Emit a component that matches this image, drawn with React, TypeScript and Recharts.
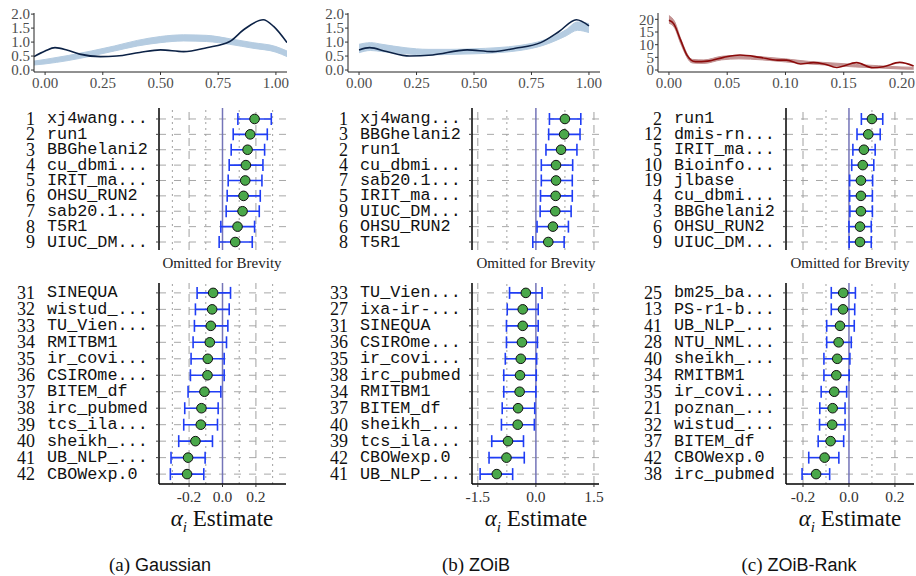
import React from 'react';
import { ComposedChart, ScatterChart, Scatter, XAxis, YAxis, ErrorBar, ReferenceLine, Line, Area } from 'recharts';

// ---------- density data ----------
const gaussObsX = [-0.048, 0.0, 0.043, 0.094, 0.15, 0.24, 0.31, 0.41, 0.5, 0.6, 0.7, 0.8, 0.86, 0.945, 0.99, 1.048];
const gaussObsY = [0.48, 0.68, 0.8, 0.72, 0.57, 0.48, 0.5, 0.63, 0.72, 0.66, 0.8, 1.02, 1.44, 1.8, 1.56, 0.98];
const gaussBandX = [-0.048, 0.0, 0.1, 0.2, 0.3, 0.4, 0.5, 0.6, 0.7, 0.8, 0.9, 1.0, 1.048];
const gaussBandLo = [0.18, 0.22, 0.34, 0.5, 0.68, 0.86, 0.98, 1.04, 1.02, 0.92, 0.78, 0.64, 0.48];
const gaussBandHi = [0.32, 0.38, 0.52, 0.68, 0.86, 1.06, 1.2, 1.26, 1.24, 1.12, 0.98, 0.84, 0.68];

const zoibObsX = [0.0, 0.046, 0.12, 0.22, 0.32, 0.47, 0.58, 0.68, 0.79, 0.87, 0.945, 1.0];
const zoibObsY = [0.72, 0.8, 0.66, 0.5, 0.54, 0.72, 0.66, 0.78, 0.98, 1.38, 1.8, 1.58];
const zoibBandX = [0.0, 0.05, 0.1, 0.2, 0.3, 0.4, 0.5, 0.6, 0.7, 0.8, 0.9, 0.95, 1.0];
const zoibBandLo = [0.62, 0.7, 0.66, 0.58, 0.54, 0.56, 0.58, 0.62, 0.7, 0.88, 1.22, 1.42, 1.34];
const zoibBandHi = [0.92, 0.98, 0.92, 0.8, 0.74, 0.74, 0.76, 0.8, 0.88, 1.06, 1.44, 1.72, 1.66];

const rankObsX = [0.0, 0.004, 0.01, 0.0154, 0.0226, 0.033, 0.047, 0.061, 0.078, 0.093, 0.101, 0.113, 0.124, 0.133, 0.144, 0.161, 0.175, 0.184, 0.198, 0.21];
const rankObsY = [19.6, 18.3, 11.8, 5.9, 3.3, 3.5, 5.0, 5.9, 5.0, 3.9, 3.9, 2.4, 2.9, 2.4, 1.0, 2.9, 0.9, 1.3, 3.0, 1.6];
const rankBandX = [0.0, 0.005, 0.01, 0.02, 0.03, 0.045, 0.06, 0.08, 0.1, 0.12, 0.14, 0.16, 0.18, 0.2, 0.21];
const rankBandLo = [18.5, 16.5, 10.5, 2.8, 2.6, 4.0, 4.4, 4.0, 3.2, 2.4, 1.8, 1.2, 0.8, 0.4, 0.3];
const rankBandHi = [21.5, 19.0, 12.5, 4.2, 4.0, 5.4, 5.8, 5.2, 4.4, 3.4, 2.8, 2.2, 1.7, 1.2, 1.1];

const unitTicks = [0, 0.25, 0.5, 0.75, 1];
const unitYTicks = [0, 0.5, 1, 1.5, 2];
const rankTicks = [0, 0.05, 0.1, 0.15, 0.2];
const rankYTicks = [0, 5, 10, 15, 20];

// ---------- forest data ----------
const gaussTopIds = [1, 2, 3, 4, 5, 6, 7, 8, 9];
const gaussTopNames = ['xj4wang...', 'run1', 'BBGhelani2', 'cu_dbmi...', 'IRIT_ma...', 'OHSU_RUN2', 'sab20.1...', 'T5R1', 'UIUC_DM...'];
const gaussTopEst = [0.192, 0.166, 0.15, 0.14, 0.136, 0.126, 0.12, 0.09, 0.076];
const gaussTopLo = [0.092, 0.064, 0.052, 0.04, 0.034, 0.028, 0.022, -0.01, -0.02];
const gaussTopHi = [0.292, 0.268, 0.252, 0.242, 0.236, 0.226, 0.22, 0.192, 0.178];

const gaussBotIds = [31, 32, 33, 34, 35, 36, 37, 38, 39, 40, 41, 42];
const gaussBotNames = ['SINEQUA', 'wistud_...', 'TU_Vien...', 'RMITBM1', 'ir_covi...', 'CSIROme...', 'BITEM_df', 'irc_pubmed', 'tcs_ila...', 'sheikh_...', 'UB_NLP_...', 'CBOWexp.0'];
const gaussBotEst = [-0.056, -0.062, -0.07, -0.076, -0.088, -0.09, -0.108, -0.126, -0.13, -0.162, -0.206, -0.212];
const gaussBotLo = [-0.152, -0.162, -0.168, -0.176, -0.188, -0.192, -0.206, -0.226, -0.232, -0.262, -0.308, -0.312];
const gaussBotHi = [0.048, 0.04, 0.032, 0.024, 0.01, 0.01, -0.01, -0.026, -0.03, -0.06, -0.104, -0.112];

const zoibTopIds = [1, 3, 2, 4, 7, 5, 9, 6, 8];
const zoibTopNames = ['xj4wang...', 'BBGhelani2', 'run1', 'cu_dbmi...', 'sab20.1...', 'IRIT_ma...', 'UIUC_DM...', 'OHSU_RUN2', 'T5R1'];
const zoibTopEst = [0.75, 0.73, 0.65, 0.52, 0.52, 0.51, 0.5, 0.44, 0.32];
const zoibTopLo = [0.35, 0.33, 0.26, 0.14, 0.14, 0.12, 0.11, 0.03, -0.08];
const zoibTopHi = [1.16, 1.14, 1.06, 0.95, 0.94, 0.94, 0.91, 0.84, 0.73];

const zoibBotIds = [33, 27, 31, 36, 35, 38, 34, 37, 40, 39, 42, 41];
const zoibBotNames = ['TU_Vien...', 'ixa-ir-...', 'SINEQUA', 'CSIROme...', 'ir_covi...', 'irc_pubmed', 'RMITBM1', 'BITEM_df', 'sheikh_...', 'tcs_ila...', 'CBOWexp.0', 'UB_NLP_...'];
const zoibBotEst = [-0.26, -0.34, -0.34, -0.36, -0.39, -0.41, -0.42, -0.46, -0.47, -0.72, -0.76, -1.01];
const zoibBotLo = [-0.68, -0.74, -0.76, -0.76, -0.79, -0.83, -0.83, -0.87, -0.89, -1.14, -1.21, -1.44];
const zoibBotHi = [0.16, 0.06, 0.06, 0.04, 0.02, 0.01, 0.0, -0.03, -0.04, -0.32, -0.3, -0.6];

const rankTopIds = [2, 12, 5, 10, 19, 4, 3, 6, 9];
const rankTopNames = ['run1', 'dmis-rn...', 'IRIT_ma...', 'Bioinfo...', 'jlbase', 'cu_dbmi...', 'BBGhelani2', 'OHSU_RUN2', 'UIUC_DM...'];
const rankTopEst = [0.1, 0.084, 0.065, 0.06, 0.052, 0.052, 0.052, 0.048, 0.048];
const rankTopLo = [0.054, 0.035, 0.017, 0.012, 0.003, 0.003, 0.004, 0.0, 0.001];
const rankTopHi = [0.147, 0.136, 0.114, 0.108, 0.103, 0.102, 0.102, 0.097, 0.097];

const rankBotIds = [25, 13, 41, 28, 40, 34, 35, 21, 32, 37, 42, 38];
const rankBotNames = ['bm25_ba...', 'PS-r1-b...', 'UB_NLP_...', 'NTU_NML...', 'sheikh_...', 'RMITBM1', 'ir_covi...', 'poznan_...', 'wistud_...', 'BITEM_df', 'CBOWexp.0', 'irc_pubmed'];
const rankBotEst = [-0.025, -0.026, -0.039, -0.045, -0.051, -0.055, -0.064, -0.071, -0.073, -0.08, -0.106, -0.143];
const rankBotLo = [-0.077, -0.077, -0.097, -0.097, -0.109, -0.109, -0.121, -0.127, -0.128, -0.134, -0.175, -0.204];
const rankBotHi = [0.028, 0.025, 0.023, 0.01, 0.004, 0.001, -0.01, -0.017, -0.017, -0.023, -0.044, -0.084];

const gaussTicks = [-0.2, 0, 0.2];
const zoibTicks = [-1.5, 0, 1.5];
const rankXTicks = [-0.2, 0, 0.2];

// ---------- helpers ----------
type Row = { row: number; est: number; err: [number, number]; id: number; name: string };

function buildRows(ids: number[], names: string[], est: number[], lo: number[], hi: number[]): Row[] {
  return ids.map((id, i) => ({ row: i + 1, est: est[i], err: [est[i] - lo[i], hi[i] - est[i]], id, name: names[i] }));
}
function buildBand(xs: number[], lo: number[], hi: number[]) {
  return xs.map((x, i) => ({ x, range: [lo[i], hi[i]] }));
}
function buildLine(xs: number[], ys: number[]) {
  return xs.map((x, i) => ({ x, y: ys[i] }));
}

const SERIF = '"Liberation Serif", "DejaVu Serif", serif';
const MONO = '"Liberation Mono", "DejaVu Sans Mono", monospace';
const SANS = '"Liberation Sans", "DejaVu Sans", sans-serif';

const YW = 150;
const MT = 8;
const MR = 14;

type ForestProps = {
  rows: Row[];
  xDomain: [number, number];
  yDomain: [number, number];
  majors: number[];
  minors: number[];
  left: number;
  top: number;
  w: number;
  h: number;
  showAxis: boolean;
  xTicks?: number[];
  fmt?: (v: number) => string;
};

const GreenDot = (props: any) => (
  <circle cx={props.cx} cy={props.cy} r={4.8} fill="#4aa84a" stroke="#111" strokeWidth={1} />
);

function Forest(p: ForestProps) {
  const XH = p.showAxis ? 26 : 0;
  const MB = p.showAxis ? 0 : 8;
  const RowTick = (props: any) => {
    const { x, y, payload } = props;
    const r = p.rows[Math.round(payload.value) - 1];
    if (!r) return null;
    return (
      <g>
        <line x1={x - 3} x2={x} y1={y} y2={y} stroke="#444" strokeWidth={1} />
        <text x={x - 124} y={y} textAnchor="end" dominantBaseline="central" fontFamily={SERIF} fontSize={18} fill="#111">{r.id}</text>
        <text x={x - 112} y={y} textAnchor="start" dominantBaseline="central" fontFamily={MONO} fontSize={16.8} fill="#111">{r.name}</text>
      </g>
    );
  };
  return (
    <div style={{ position: 'absolute', left: p.left - YW, top: p.top - MT }}>
      <ScatterChart width={YW + p.w + MR} height={p.h + XH + MT + MB} margin={{ top: MT, right: MR, bottom: MB, left: 0 }}>
        <XAxis
          type="number"
          dataKey="est"
          domain={p.xDomain}
          allowDataOverflow
          hide={!p.showAxis}
          ticks={p.xTicks}
          interval={0}
          tickFormatter={p.fmt}
          height={XH}
          tickSize={3}
          tickMargin={4}
          axisLine={{ stroke: '#000', strokeWidth: 1.5 }}
          tickLine={{ stroke: '#333' }}
          tick={{ fontFamily: SERIF, fontSize: 15.5, fill: '#333' }}
        />
        <YAxis
          type="number"
          dataKey="row"
          domain={p.yDomain}
          allowDataOverflow
          reversed
          ticks={p.rows.map((r) => r.row)}
          interval={0}
          width={YW}
          tickSize={0}
          tickMargin={0}
          tickLine={false}
          tick={<RowTick />}
          axisLine={{ stroke: '#000', strokeWidth: 1.5 }}
        />
        {p.rows.map((r) => (
          <ReferenceLine key={'h' + r.row} y={r.row} stroke="#a8a8a8" strokeDasharray="7 8" />
        ))}
        {p.minors.map((v) => (
          <ReferenceLine key={'mi' + v} x={v} stroke="#a0a0a0" strokeDasharray="2 4" />
        ))}
        {p.majors.map((v) => (
          <ReferenceLine key={'ma' + v} x={v} stroke="#a0a0a0" strokeDasharray="8 5" />
        ))}
        <ReferenceLine x={0} stroke="#7474b8" strokeWidth={1.5} />
        <Scatter data={p.rows} isAnimationActive={false} shape={GreenDot}>
          <ErrorBar dataKey="err" direction="x" width={6} stroke="#1f3df5" strokeWidth={1.6} />
        </Scatter>
      </ScatterChart>
    </div>
  );
}

type DensityProps = {
  left: number;
  top: number;
  w: number;
  h: number;
  yw: number;
  xDomain: [number, number];
  yDomain: [number, number];
  xTicks: number[];
  yTicks: number[];
  xFmt: (v: number) => string;
  yFmt: (v: number) => string;
  band: any[];
  obs: any[];
  bandColor: string;
  lineColor: string;
};

function Density(p: DensityProps) {
  const XH = 24;
  const mr = 2;
  return (
    <div style={{ position: 'absolute', left: p.left - p.yw, top: p.top - MT }}>
      <ComposedChart width={p.yw + p.w + mr} height={p.h + XH + MT} margin={{ top: MT, right: mr, bottom: 0, left: 0 }}>
        <XAxis
          type="number"
          dataKey="x"
          domain={p.xDomain}
          allowDataOverflow
          ticks={p.xTicks}
          interval={0}
          tickFormatter={p.xFmt}
          height={XH}
          tickSize={3}
          tickMargin={2}
          axisLine={{ stroke: '#222' }}
          tickLine={{ stroke: '#333' }}
          tick={{ fontFamily: SERIF, fontSize: 15, fill: '#4d4d4d' }}
        />
        <YAxis
          type="number"
          domain={p.yDomain}
          allowDataOverflow
          ticks={p.yTicks}
          interval={0}
          tickFormatter={p.yFmt}
          width={p.yw}
          tickSize={3}
          tickMargin={1}
          axisLine={{ stroke: '#222' }}
          tickLine={{ stroke: '#333' }}
          tick={{ fontFamily: SERIF, fontSize: 15, fill: '#4d4d4d' }}
        />
        <Area data={p.band} dataKey="range" type="monotone" fill={p.bandColor} fillOpacity={1} stroke={p.bandColor} strokeWidth={1} isAnimationActive={false} />
        <Line data={p.obs} dataKey="y" type="monotone" stroke={p.lineColor} strokeWidth={1.6} dot={false} isAnimationActive={false} />
      </ComposedChart>
    </div>
  );
}

const f2 = (v: number) => v.toFixed(2);
const f1 = (v: number) => v.toFixed(1);
const f0 = (v: number) => String(Math.round(v));

function Omitted({ cx }: { cx: number }) {
  return (
    <div style={{ position: 'absolute', left: cx - 100, top: 253, width: 200, textAlign: 'center', fontFamily: SERIF, fontSize: 15, lineHeight: '20px', color: '#222' }}>
      Omitted for Brevity
    </div>
  );
}

function AlphaLabel({ cx }: { cx: number }) {
  return (
    <div style={{ position: 'absolute', left: cx - 100, top: 504, width: 200, textAlign: 'center', fontFamily: SERIF, fontSize: 23, lineHeight: '30px', color: '#111' }}>
      <span style={{ fontStyle: 'italic' }}>α</span>
      <sub style={{ fontStyle: 'italic', fontSize: 15 }}>i</sub> Estimate
    </div>
  );
}

function Caption({ cx, tag, text }: { cx: number; tag: string; text: string }) {
  return (
    <div style={{ position: 'absolute', left: cx - 150, top: 552, width: 300, textAlign: 'center', lineHeight: '26px', color: '#111' }}>
      <span style={{ fontFamily: SERIF, fontSize: 19 }}>{tag}</span>
      <span style={{ fontFamily: SANS, fontSize: 18 }}> {text}</span>
    </div>
  );
}

export default function App() {
  const topY: [number, number] = [0.286, 9.52];
  const botY: [number, number] = [0.4, 12.6];
  return (
    <div style={{ position: 'absolute', left: 0, top: 0, width: 916, height: 576, background: '#fff', overflow: 'hidden' }}>
      <Density left={34} top={13} w={253} h={59} yw={34} xDomain={[-0.048, 1.048]} yDomain={[-0.07, 2.04]}
        xTicks={unitTicks} yTicks={unitYTicks} xFmt={f2} yFmt={f1}
        band={buildBand(gaussBandX, gaussBandLo, gaussBandHi)} obs={buildLine(gaussObsX, gaussObsY)}
        bandColor="#b5cce1" lineColor="#0c2246" />
      <Density left={348} top={13} w={252} h={59} yw={40} xDomain={[-0.048, 1.048]} yDomain={[-0.07, 2.04]}
        xTicks={unitTicks} yTicks={unitYTicks} xFmt={f2} yFmt={f1}
        band={buildBand(zoibBandX, zoibBandLo, zoibBandHi)} obs={buildLine(zoibObsX, zoibObsY)}
        bandColor="#b5cce1" lineColor="#0c2246" />
      <Density left={658} top={13} w={256} h={59} yw={40} xDomain={[-0.0094, 0.2103]} yDomain={[-0.78, 22.5]}
        xTicks={rankTicks} yTicks={rankYTicks} xFmt={f2} yFmt={f0}
        band={buildBand(rankBandX, rankBandLo, rankBandHi)} obs={buildLine(rankObsX, rankObsY)}
        bandColor="#c39393" lineColor="#8b0a0a" />

      <Forest rows={buildRows(gaussTopIds, gaussTopNames, gaussTopEst, gaussTopLo, gaussTopHi)}
        xDomain={[-0.38, 0.38]} yDomain={topY} majors={[-0.2, 0.2]} minors={[-0.3, -0.1, 0.1, 0.3]}
        left={159} top={108} w={127} h={142} showAxis={false} />
      <Forest rows={buildRows(gaussBotIds, gaussBotNames, gaussBotEst, gaussBotLo, gaussBotHi)}
        xDomain={[-0.38, 0.38]} yDomain={botY} majors={[-0.2, 0.2]} minors={[-0.3, -0.1, 0.1, 0.3]}
        left={159} top={283} w={127} h={201} showAxis xTicks={gaussTicks} fmt={f1} />

      <Forest rows={buildRows(zoibTopIds, zoibTopNames, zoibTopEst, zoibTopLo, zoibTopHi)}
        xDomain={[-1.65, 1.63]} yDomain={topY} majors={[-1.5, 1.5]} minors={[-0.75, 0.75]}
        left={472} top={108} w={127} h={142} showAxis={false} />
      <Forest rows={buildRows(zoibBotIds, zoibBotNames, zoibBotEst, zoibBotLo, zoibBotHi)}
        xDomain={[-1.65, 1.63]} yDomain={botY} majors={[-1.5, 1.5]} minors={[-0.75, 0.75]}
        left={472} top={283} w={127} h={201} showAxis xTicks={zoibTicks} fmt={f1} />

      <Forest rows={buildRows(rankTopIds, rankTopNames, rankTopEst, rankTopLo, rankTopHi)}
        xDomain={[-0.274, 0.283]} yDomain={topY} majors={[-0.2, 0.2]} minors={[-0.1, 0.1]}
        left={786} top={108} w={128} h={142} showAxis={false} />
      <Forest rows={buildRows(rankBotIds, rankBotNames, rankBotEst, rankBotLo, rankBotHi)}
        xDomain={[-0.274, 0.283]} yDomain={botY} majors={[-0.2, 0.2]} minors={[-0.1, 0.1]}
        left={786} top={283} w={128} h={201} showAxis xTicks={rankXTicks} fmt={f1} />

      <Omitted cx={222} />
      <Omitted cx={536} />
      <Omitted cx={850} />
      <AlphaLabel cx={222} />
      <AlphaLabel cx={536} />
      <AlphaLabel cx={850} />
      <Caption cx={160} tag="(a)" text="Gaussian" />
      <Caption cx={476} tag="(b)" text="ZOiB" />
      <Caption cx={799} tag="(c)" text="ZOiB-Rank" />
    </div>
  );
}
